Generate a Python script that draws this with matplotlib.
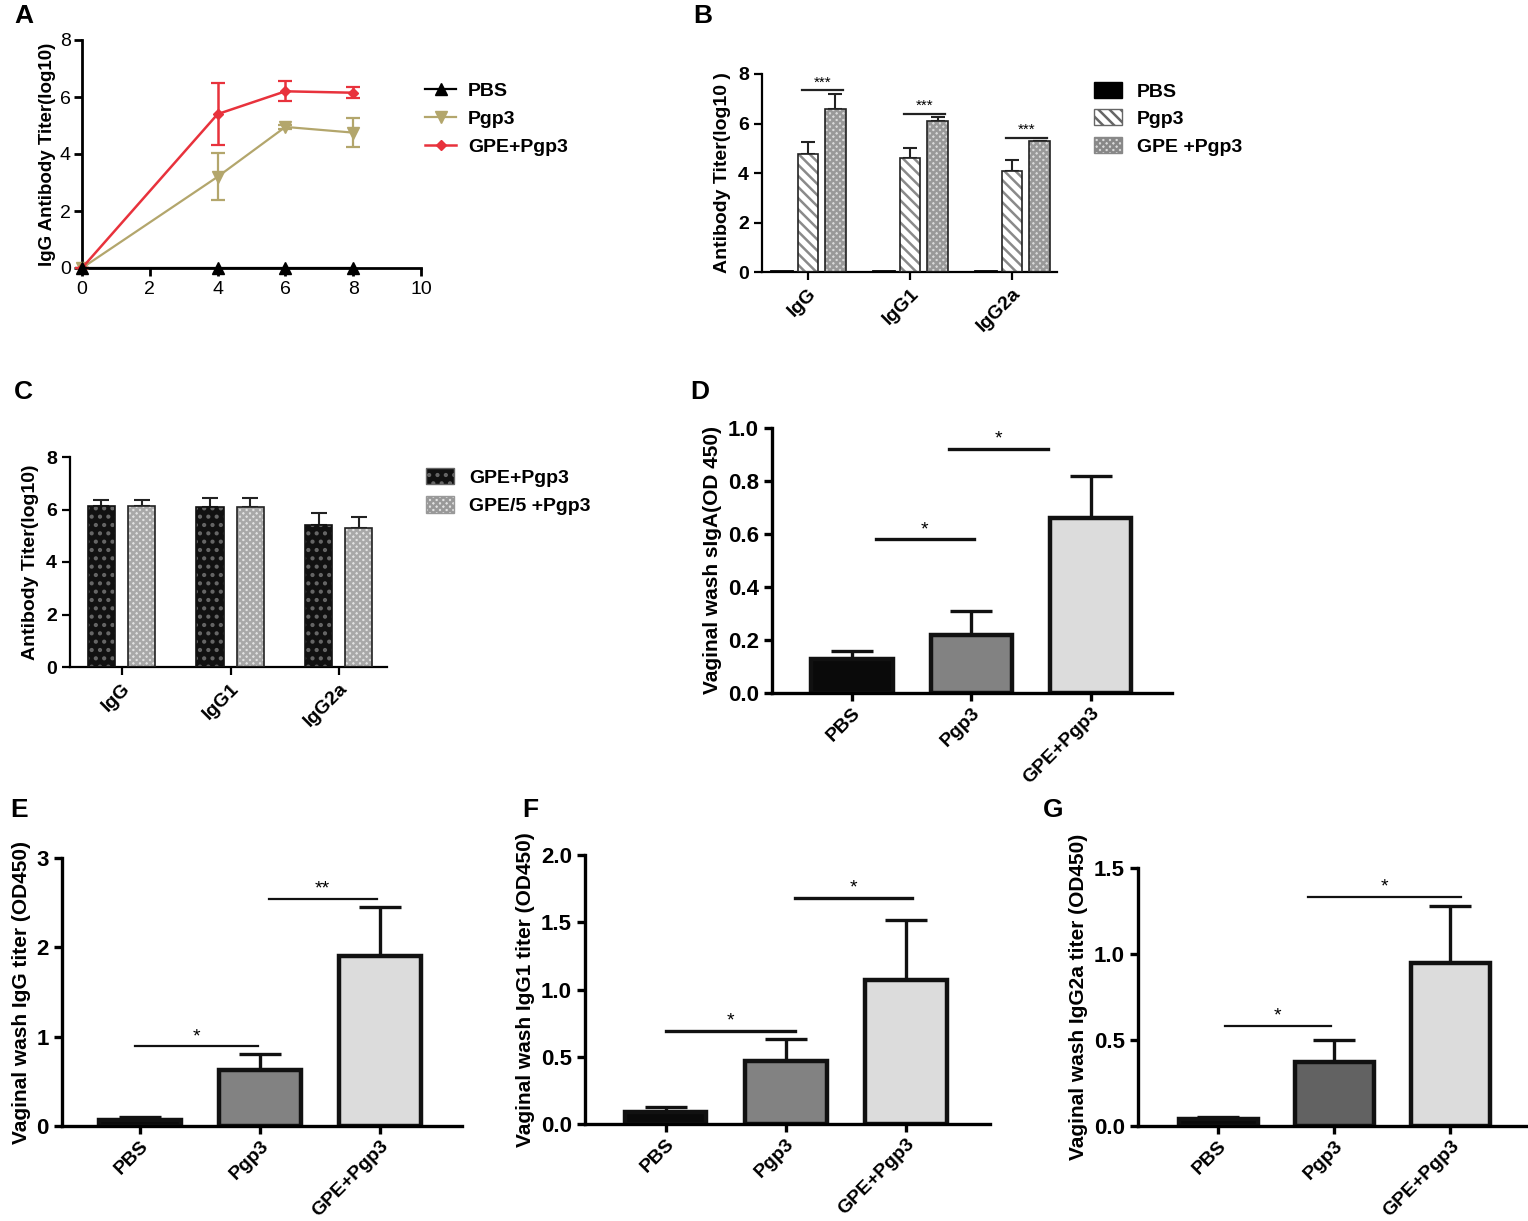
import matplotlib.pyplot as plt
from matplotlib.patches import Patch
from matplotlib.lines import Line2D
from matplotlib.ticker import FormatStrFormatter
import numpy as np

plt.rcParams['font.family'] = ['Liberation Sans', 'DejaVu Sans']
plt.rcParams['font.weight'] = 'bold'
plt.rcParams['axes.labelweight'] = 'bold'
plt.rcParams['hatch.linewidth'] = 1.8

# ---- data ----
# A: serum IgG over time (weeks)
weeks = [0, 4, 6, 8]
a_pbs = [0, 0, 0, 0]
a_pgp3 = [0, 3.2, 4.95, 4.75]
a_pgp3_err = [0, 0.83, 0.08, 0.5]
a_gpe = [0, 5.4, 6.2, 6.15]
a_gpe_err = [0, 1.1, 0.35, 0.2]

# B: subclasses
subclasses = ['IgG', 'IgG1', 'IgG2a']
b_pbs = [0.05, 0.05, 0.05]
b_pgp3 = [4.75, 4.6, 4.08]
b_pgp3_err = [0.5, 0.42, 0.45]
b_gpe = [6.6, 6.1, 5.28]
b_gpe_err = [0.6, 0.15, 0.0]
b_sig = ['***', '***', '***']

# C: GPE dose
c_gpe = [6.15, 6.1, 5.4]
c_gpe_err = [0.2, 0.35, 0.45]
c_gpe5 = [6.15, 6.1, 5.3]
c_gpe5_err = [0.2, 0.35, 0.42]

# D-G: vaginal wash
groups = ['PBS', 'Pgp3', 'GPE+Pgp3']
d_vals = [0.13, 0.22, 0.66]
d_err = [0.03, 0.09, 0.16]
e_vals = [0.07, 0.63, 1.9]
e_err = [0.03, 0.18, 0.55]
f_vals = [0.09, 0.47, 1.07]
f_err = [0.04, 0.16, 0.45]
g_vals = [0.04, 0.37, 0.95]
g_err = [0.01, 0.13, 0.33]

W, H = 1528, 1221
fig = plt.figure(figsize=(W / 100, H / 100), dpi=100)


def px_axes(left, top, right, bottom):
    return fig.add_axes([left / W, 1 - bottom / H, (right - left) / W, (bottom - top) / H])


def style(ax, lw=2.0, size=13):
    for s in ['top', 'right']:
        ax.spines[s].set_visible(False)
    for s in ['left', 'bottom']:
        ax.spines[s].set_linewidth(lw)
    ax.tick_params(direction='out', length=6, width=lw, labelsize=size)


def letter(x, y, s):
    fig.text(x / W, 1 - y / H, s, fontsize=19, weight='bold', va='top', ha='left')


# ---------------- A ----------------
ax = px_axes(82, 40, 421, 268)
style(ax, lw=2.0, size=14)
ax.errorbar(weeks, a_pgp3, yerr=a_pgp3_err, color='#b3a66c', marker='v', ms=8,
            lw=1.6, capsize=5, capthick=1.6, clip_on=False, zorder=3)
ax.errorbar(weeks, a_gpe, yerr=a_gpe_err, color='#e8323c', marker='D', ms=5,
            lw=1.8, capsize=5, capthick=1.6, clip_on=False, zorder=4)
ax.plot(weeks, a_pbs, color='black', marker='^', ms=8, lw=1.6, clip_on=False, zorder=5)
ax.set_xlim(0, 10)
ax.set_ylim(0, 8)
ax.set_xticks([0, 2, 4, 6, 8, 10])
ax.set_yticks([0, 2, 4, 6, 8])
for t in ax.get_xticklabels() + ax.get_yticklabels():
    t.set_fontweight('normal')
ax.tick_params(axis='y', pad=2)
ax.set_ylabel('IgG Antibody Titer(log10)', fontsize=13.5, labelpad=3)
handles = [Line2D([], [], color='black', marker='^', ms=8, lw=1.6),
           Line2D([], [], color='#b3a66c', marker='v', ms=8, lw=1.6),
           Line2D([], [], color='#e8323c', marker='D', ms=5, lw=1.8)]
ax.legend(handles, ['PBS', 'Pgp3', 'GPE+Pgp3'], loc='upper left', frameon=False,
          bbox_to_anchor=(0.99, 0.85), borderaxespad=0, fontsize=14,
          handlelength=1.6, handletextpad=0.6, labelspacing=0.55)
letter(14, 4, 'A')

# ---------------- B ----------------
ax = px_axes(762, 74, 1057, 272)
style(ax, lw=1.6, size=14)
x = np.arange(3)
bw = 0.2
ax.bar(x - 0.26, b_pbs, bw, color='black', edgecolor='black', lw=2)
ax.errorbar(x, b_pgp3, yerr=[np.zeros(3), b_pgp3_err], fmt='none', ecolor='#222',
            elinewidth=1.5, capsize=5, capthick=1.5, zorder=1)
ax.bar(x, b_pgp3, bw, color='white', edgecolor='#8a8a8a', hatch='\\\\\\', lw=0, zorder=2)
ax.bar(x, b_pgp3, bw, fill=False, edgecolor='#222', lw=1.2, zorder=3)
ax.errorbar(x + 0.27, b_gpe, yerr=[np.zeros(3), b_gpe_err], fmt='none', ecolor='#222',
            elinewidth=1.5, capsize=5, capthick=1.5, zorder=1)
ax.bar(x + 0.27, b_gpe, bw, color='#dadada', edgecolor='#999999', hatch='xxxxx', lw=0, zorder=2)
ax.bar(x + 0.27, b_gpe, bw, fill=False, edgecolor='#222', lw=1.2, zorder=3)
for i, s in enumerate(b_sig):
    top = b_gpe[i] + b_gpe_err[i] + 0.15
    ax.plot([x[i] - 0.06, x[i] + 0.34], [top, top], color='#222', lw=1.6)
    ax.text(x[i] + 0.14, top + 0.02, s, ha='center', va='bottom', fontsize=11,
            weight='normal')
ax.set_xlim(-0.45, 2.44)
ax.set_ylim(0, 8)
ax.set_yticks([0, 2, 4, 6, 8])
ax.set_xticks(x, subclasses, rotation=45, ha='right', rotation_mode='anchor')
ax.set_ylabel('Antibody Titer(log10 )', fontsize=14, labelpad=5)
handles = [Patch(facecolor='black', edgecolor='black'),
           Patch(facecolor='white', edgecolor='#666', hatch='\\\\\\'),
           Patch(facecolor='#dadada', edgecolor='#888', hatch='xxxxx')]
ax.legend(handles, ['PBS', 'Pgp3', 'GPE +Pgp3'], loc='upper left', frameon=False,
          bbox_to_anchor=(1.1, 1.0), borderaxespad=0, fontsize=14,
          handlelength=1.4, handleheight=0.9, labelspacing=0.45)
letter(693, 4, 'B')

# ---------------- C ----------------
ax = px_axes(70, 457, 387, 667)
style(ax, lw=1.6, size=14)
x = np.arange(3)
bw = 0.25
ax.errorbar(x - 0.19, c_gpe, yerr=[np.zeros(3), c_gpe_err], fmt='none', ecolor='#222',
            elinewidth=1.5, capsize=6, capthick=1.5, zorder=1)
ax.bar(x - 0.19, c_gpe, bw, color='#111', edgecolor='#666', hatch='..', lw=0, zorder=2)
ax.bar(x - 0.19, c_gpe, bw, fill=False, edgecolor='#111', lw=1.2, zorder=3)
ax.errorbar(x + 0.18, c_gpe5, yerr=[np.zeros(3), c_gpe5_err], fmt='none', ecolor='#222',
            elinewidth=1.5, capsize=6, capthick=1.5, zorder=1)
ax.bar(x + 0.18, c_gpe5, bw, color='#e2e2e2', edgecolor='#a8a8a8', hatch='xxxxx', lw=0, zorder=2)
ax.bar(x + 0.18, c_gpe5, bw, fill=False, edgecolor='#222', lw=1.2, zorder=3)
ax.set_xlim(-0.48, 2.44)
ax.set_ylim(0, 8)
ax.set_yticks([0, 2, 4, 6, 8])
ax.set_xticks(x, subclasses, rotation=45, ha='right', rotation_mode='anchor')
ax.set_ylabel('Antibody Titer(log10)', fontsize=14, labelpad=5)
handles = [Patch(facecolor='#111', edgecolor='#666', hatch='..'),
           Patch(facecolor='#e2e2e2', edgecolor='#999', hatch='xxxxx')]
ax.legend(handles, ['GPE+Pgp3', 'GPE/5 +Pgp3'], loc='upper left', frameon=False,
          bbox_to_anchor=(1.1, 0.985), borderaxespad=0, fontsize=14,
          handlelength=1.4, handleheight=0.9, labelspacing=0.5)
letter(14, 380, 'C')


# ---------------- D-G ----------------
def wash_panel(box, vals, err, xlim, ylim, yticks, fmt, ylabel, colors, sigs, sig_lw):
    ax = px_axes(*box)
    style(ax, lw=2.4, size=16)
    x = np.arange(3)
    ax.errorbar(x, vals, yerr=[np.zeros(3), err], fmt='none', ecolor='#111',
                elinewidth=2.4, capsize=15, capthick=2.4, zorder=1)
    ax.bar(x, vals, 0.68, color=colors, edgecolor='#111', lw=3.2, zorder=2)
    for x1, x2, y, s in sigs:
        ax.plot([x1, x2], [y, y], color='#111', lw=sig_lw)
        ax.text((x1 + x2) / 2, y + (ylim[1] - ylim[0]) * 0.005, s, ha='center',
                va='bottom', fontsize=14, weight='normal')
    ax.set_xlim(*xlim)
    ax.set_ylim(*ylim)
    ax.set_yticks(yticks)
    ax.yaxis.set_major_formatter(FormatStrFormatter(fmt))
    ax.set_xticks(x, groups, rotation=45, ha='right', rotation_mode='anchor', fontsize=14)
    ax.tick_params(axis='x', pad=2)
    ax.set_ylabel(ylabel, fontsize=15, labelpad=4)
    return ax


wash_panel((772, 428, 1172, 693), d_vals, d_err, (-0.67, 2.68), (0, 1.0),
           [0, 0.2, 0.4, 0.6, 0.8, 1.0], '%.1f', 'Vaginal wash sIgA(OD 450)',
           ['#0a0a0a', '#828282', '#dcdcdc'],
           [(0.2, 1.02, 0.58, '*'), (0.81, 1.64, 0.92, '*')], 2.4)
letter(690, 380, 'D')

wash_panel((62, 858, 462, 1126), e_vals, e_err, (-0.65, 2.68), (0, 3),
           [0, 1, 2, 3], '%d', 'Vaginal wash IgG titer (OD450)',
           ['#0a0a0a', '#828282', '#dcdcdc'],
           [(-0.04, 0.98, 0.89, '*'), (1.07, 1.97, 2.54, '**')], 1.6)
letter(10, 798, 'E')

wash_panel((585, 855, 990, 1124), f_vals, f_err, (-0.67, 2.7), (0, 2.0),
           [0, 0.5, 1.0, 1.5, 2.0], '%.1f', 'Vaginal wash IgG1 titer (OD450)',
           ['#0a0a0a', '#828282', '#dcdcdc'],
           [(0.0, 1.08, 0.69, '*'), (1.08, 2.05, 1.68, '*')], 2.4)
letter(522, 798, 'F')

wash_panel((1138, 868, 1527, 1126), g_vals, g_err, (-0.69, 2.66), (0, 1.5),
           [0, 0.5, 1.0, 1.5], '%.1f', 'Vaginal wash IgG2a titer (OD450)',
           ['#0a0a0a', '#626262', '#dcdcdc'],
           [(0.06, 0.97, 0.58, '*'), (0.77, 2.09, 1.33, '*')], 1.6)
letter(1043, 798, 'G')

fig.savefig('out.png', dpi=100)
